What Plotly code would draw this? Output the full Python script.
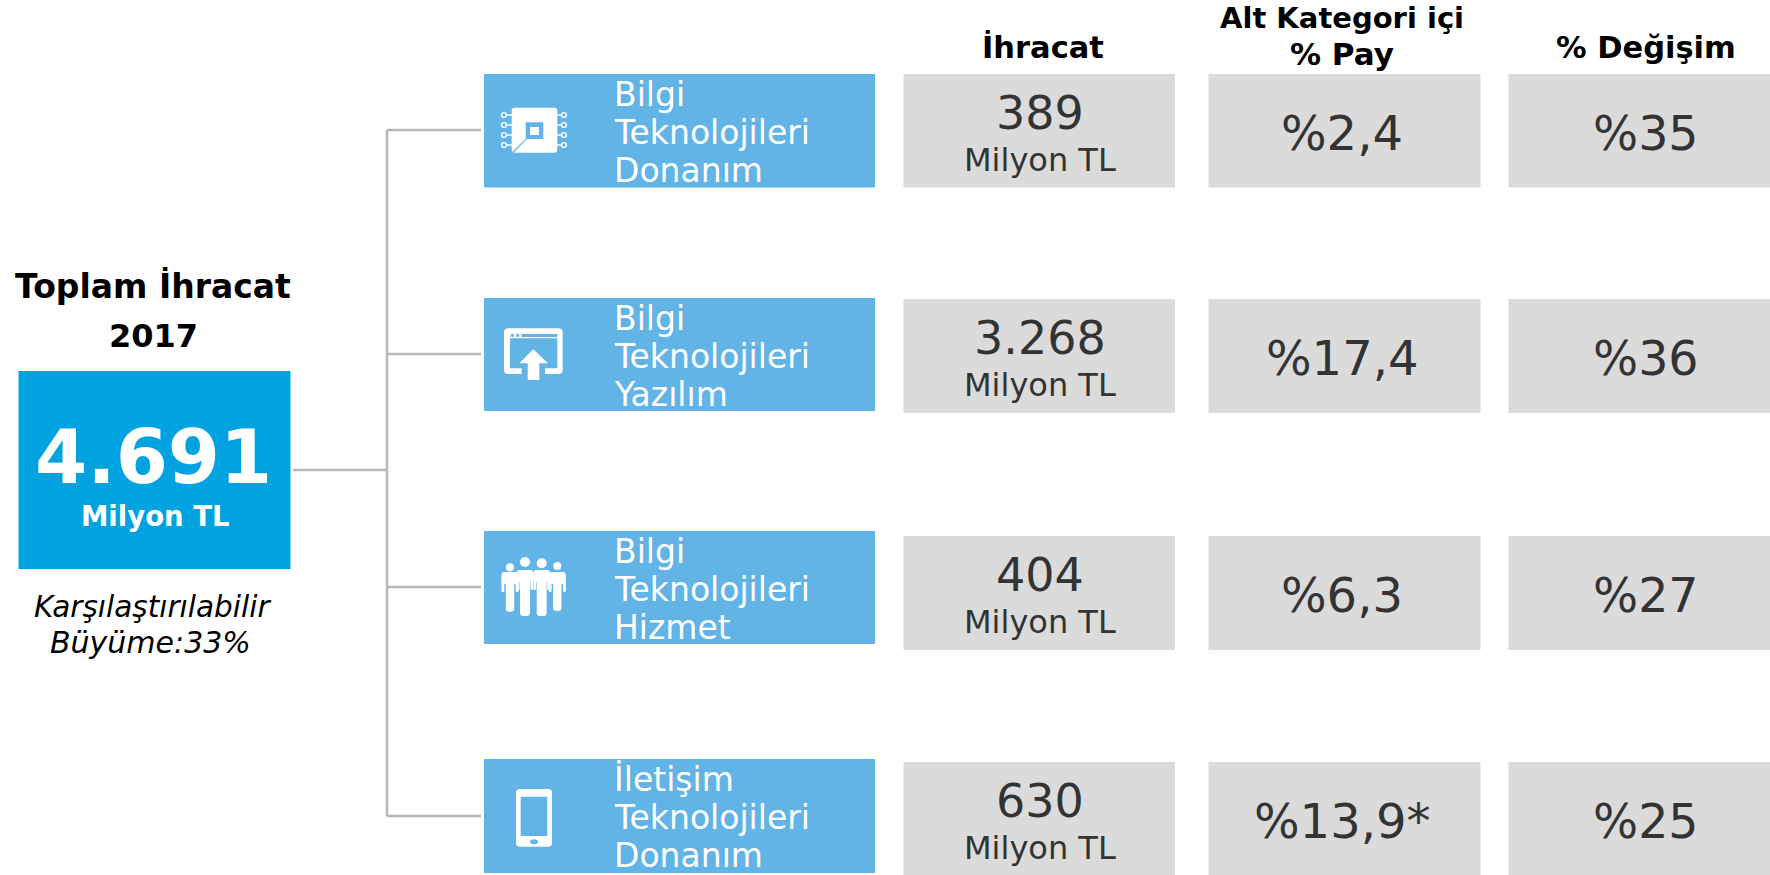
import plotly.graph_objects as go

# ---------- data ----------
total_title = ["Toplam İhracat", "2017"]
total_value = "4.691"
unit = "Milyon TL"
total_note = ["Karşılaştırılabilir", "Büyüme:33%"]
headers = ["İhracat", ["Alt Kategori içi", "% Pay"], "% Değişim"]
category_lines = [
    ["Bilgi", "Teknolojileri", "Donanım"],
    ["Bilgi", "Teknolojileri", "Yazılım"],
    ["Bilgi", "Teknolojileri", "Hizmet"],
    ["İletişim", "Teknolojileri", "Donanım"],
]
exports = ["389", "3.268", "404", "630"]
shares = ["%2,4", "%17,4", "%6,3", "%13,9*"]
changes = ["%35", "%36", "%27", "%25"]

# ---------- layout in page pixels ----------
W, H = 1770, 875
FONT = "DejaVu Sans"
BLUE, TOTAL, GRAY, LINE = "#62B3E6", "#00A3E0", "#DBDBDB", "#B7B7B7"
TXT = "#333333"
blue_rows = [(74, 187.5), (298, 411), (531, 644), (759, 873)]
gray_rows = [(74, 187.5), (299, 413), (536, 650), (762, 875)]
col_x = [(903.5, 1175), (1208.5, 1480.5), (1508.5, 1770)]
col_c = [1040, 1342, 1645.5]

shapes, annotations = [], []

def rect(x0, y0, x1, y1, color):
    shapes.append(dict(type="rect", x0=x0, x1=x1, y0=y0, y1=y1,
                       fillcolor=color, line=dict(width=0), layer="below"))

def path(d, color="white"):
    shapes.append(dict(type="path", path=d, fillcolor=color, line=dict(width=0)))

def circle(cx, cy, r, fill="white", outline=None, w=1.3, ry=None):
    ry = r if ry is None else ry
    shapes.append(dict(type="circle", x0=cx-r, x1=cx+r, y0=cy-ry, y1=cy+ry, fillcolor=fill,
                       line=dict(color=outline, width=w) if outline else dict(width=0)))

def seg(x0, y0, x1, y1, color=LINE, w=2.5):
    shapes.append(dict(type="line", x0=x0, x1=x1, y0=y0, y1=y1,
                       line=dict(color=color, width=w)))

def text(s, x, y, size, color=TXT, anchor="center", bold=False, italic=False):
    if bold:
        s = f"<b>{s}</b>"
    if italic:
        s = f"<i>{s}</i>"
    annotations.append(dict(text=s, x=x, y=y, xref="x", yref="y", showarrow=False,
                            xanchor=anchor, yanchor="middle", align=anchor,
                            font=dict(family=FONT, size=size, color=color)))

def rrect(x0, y0, x1, y1, r):
    return (f"M{x0+r},{y0} L{x1-r},{y0} Q{x1},{y0} {x1},{y0+r} L{x1},{y1-r} Q{x1},{y1} {x1-r},{y1} "
            f"L{x0+r},{y1} Q{x0},{y1} {x0},{y1-r} L{x0},{y0+r} Q{x0},{y0} {x0+r},{y0} Z")

# connector lines
branch_y = [130, 354, 587, 816]
seg(293, 470, 387, 470)
seg(387, branch_y[0], 387, branch_y[-1])
for y in branch_y:
    seg(387, y, 481, y)

# left block
rect(18.5, 371, 290.5, 569, TOTAL)
text(total_title[0], 153, 286, 33, "#000000", bold=True)
text(total_title[1], 153, 336, 32, "#000000", bold=True)
text(total_value, 153, 457, 75, "white", bold=True)
text(unit, 155, 516, 27.5, "white", bold=True)
text(total_note[0], 152, 607, 29.5, "#000000", italic=True)
text(total_note[1], 150, 642, 30, "#000000", italic=True)

# headers
text(headers[0], col_c[0]+3, 47, 30.5, "#000000", bold=True)
text(headers[1][0], col_c[1], 18, 29, "#000000", bold=True)
text(headers[1][1], col_c[1], 54, 31, "#000000", bold=True)
text(headers[2], col_c[2], 47, 30.5, "#000000", bold=True)

# rows
for i in range(4):
    y0, y1 = blue_rows[i]
    rect(484, y0, 875, y1, BLUE)
    for j, line in enumerate(category_lines[i]):
        text(line, 612, y0 + 20 + j * 38, 33, "white", anchor="left")
    g0, g1 = gray_rows[i]
    for (x0, x1) in col_x:
        rect(x0, g0, x1, g1, GRAY)
    text(exports[i], col_c[0], g0 + 39, 46)
    text(unit, col_c[0], g0 + 86, 32)
    text(shares[i], col_c[1], g0 + 59, 48)
    text(changes[i], col_c[2], g0 + 59, 47.5)

# icon 1: chip
path(rrect(511.7, 107.7, 557.3, 152.7, 3))
path("M511.5,152.8 L525.7,139 L525.7,122.3 L543.3,122.3 L543.3,139 L527,139 L513.5,152.8 Z", BLUE)
path("M530,127 L539,127 L539,135 L530,135 Z")
for py in [115, 125, 135, 145]:
    seg(506, py, 512, py, "white", 1.5)
    seg(557, py, 562, py, "white", 1.5)
    circle(504, py, 2.4, BLUE, "white", 1.4)
    circle(564, py, 2.4, BLUE, "white", 1.4)

# icon 2: window with upload arrow
path(rrect(504, 328.3, 562.7, 374, 4))
path("M510,338.3 L557.3,338.3 L557.3,368.3 L545,368.3 L545,374.5 L521.7,374.5 L521.7,368.3 L510,368.3 Z", BLUE)
path("M533.3,349.3 L548,363.3 L539.3,363.3 L539.3,380 L527.7,380 L527.7,363.3 L519.3,363.3 Z")
circle(512.3, 335.4, 1.7, BLUE)
circle(517.7, 335.4, 1.7, BLUE)
path("M521.7,334 L557.3,334 L557.3,337 L521.7,337 Z", BLUE)

# icon 3: people
def person(cx, top, bottom, half, torso, head_y, r):
    circle(cx, head_y, r)
    arm = top + 20
    path(rrect(cx-half, top, cx+half, top+12, 3))
    path(rrect(cx-half, top+4, cx-half+2.8, arm, 1.2))
    path(rrect(cx+half-2.8, top+4, cx+half, arm, 1.2))
    path(rrect(cx-torso, top+8, cx+torso, bottom, 3.5))

person(510, 572, 611.7, 8.5, 4.2, 567.3, 4)
person(557.3, 572, 611, 8.5, 4.2, 566, 4)
person(525, 570, 616, 8.3, 5, 562, 5)
person(541.7, 570, 616, 8.3, 5, 563.3, 5)

# icon 4: phone
path(rrect(516, 789, 552, 846.7, 4))
path("M520.7,796.7 L547.3,796.7 L547.3,836 L520.7,836 Z", BLUE)
circle(534, 841.7, 4, BLUE, ry=2.5)

fig = go.Figure()
fig.update_layout(
    width=W, height=H, margin=dict(l=0, r=0, t=0, b=0),
    paper_bgcolor="white", plot_bgcolor="white", showlegend=False,
    xaxis=dict(range=[0, W], visible=False, fixedrange=True),
    yaxis=dict(range=[H, 0], visible=False, fixedrange=True),
    shapes=shapes, annotations=annotations,
)
fig.write_html("out.html", config=dict(displayModeBar=False),
               post_script="document.body.style.margin='0';document.body.style.overflow='hidden';")
